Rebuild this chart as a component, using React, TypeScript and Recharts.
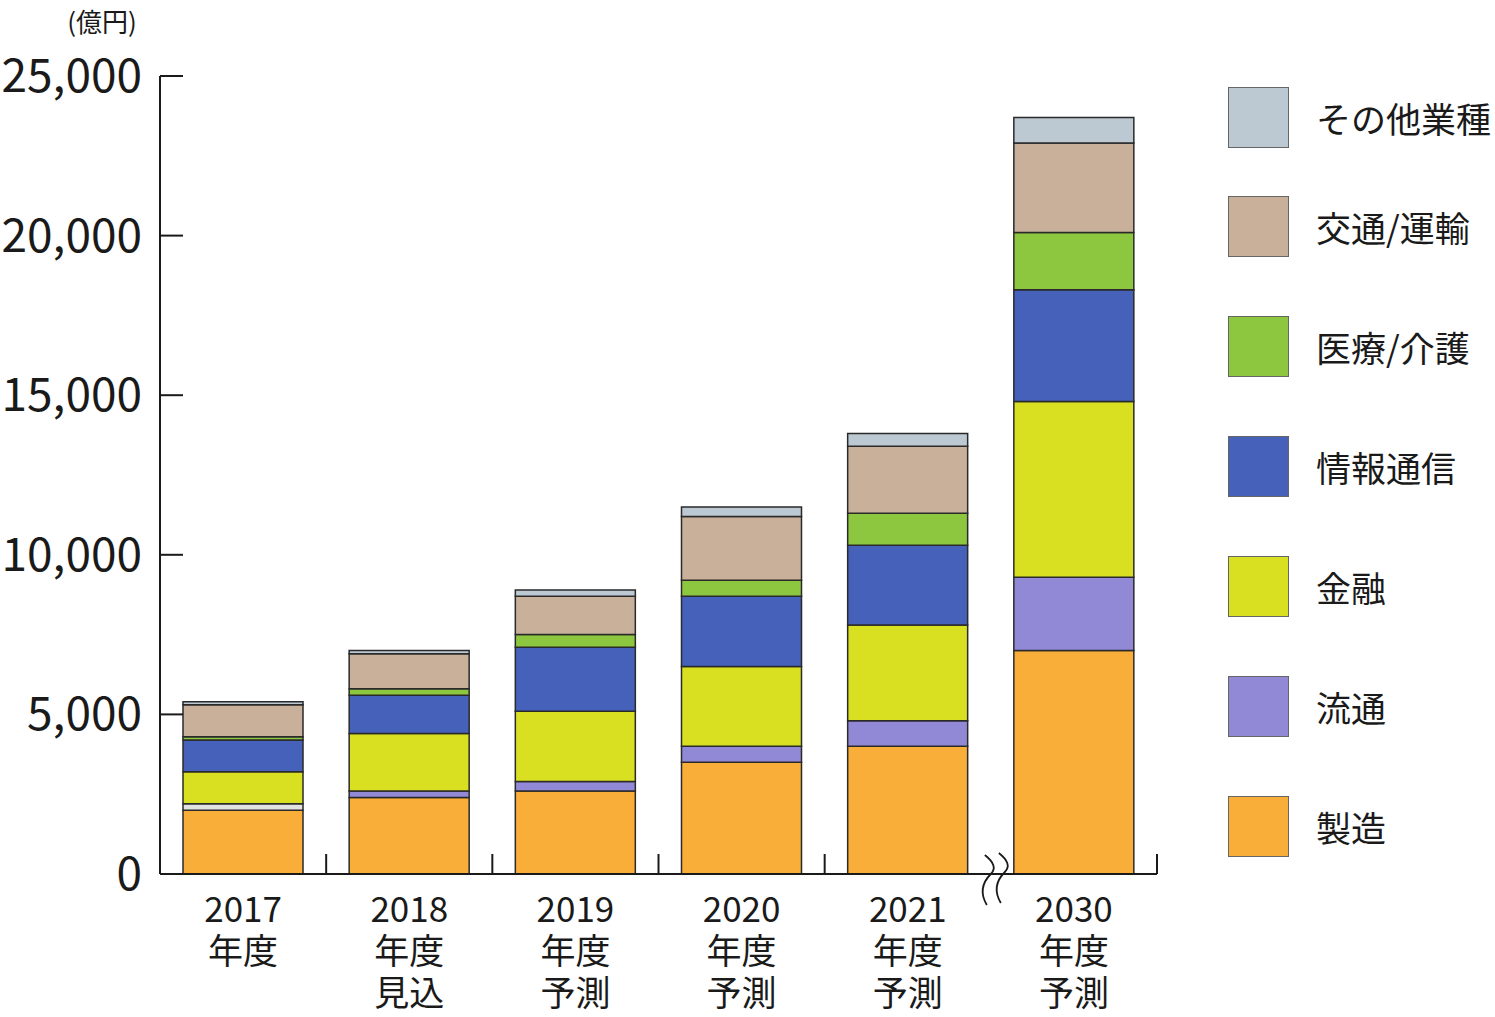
import { Bar, BarChart, Cell, XAxis, YAxis } from "recharts";

const categories = [
  "2017\n年度",
  "2018\n年度\n見込",
  "2019\n年度\n予測",
  "2020\n年度\n予測",
  "2021\n年度\n予測",
  "2030\n年度\n予測",
];

// 億円
const manufacturing = [2000, 2400, 2600, 3500, 4000, 7000];
const distribution = [200, 200, 300, 500, 800, 2300];
const finance = [1000, 1800, 2200, 2500, 3000, 5500];
const ict = [1000, 1200, 2000, 2200, 2500, 3500];
const medical = [100, 200, 400, 500, 1000, 1800];
const transport = [1000, 1100, 1200, 2000, 2100, 2800];
const other = [100, 100, 200, 300, 400, 800];

const yTicks = [0, 5000, 10000, 15000, 20000, 25000];

const series = [
  { key: "manufacturing", name: "製造", color: "#F9AE3A", values: manufacturing },
  { key: "distribution", name: "流通", color: "#9189D6", values: distribution },
  { key: "finance", name: "金融", color: "#D9E021", values: finance },
  { key: "ict", name: "情報通信", color: "#4561BA", values: ict },
  { key: "medical", name: "医療/介護", color: "#8DC63F", values: medical },
  { key: "transport", name: "交通/運輸", color: "#C8B09A", values: transport },
  { key: "other", name: "その他業種", color: "#BCC9D2", values: other },
];

const data = categories.map((name, i) => {
  const row: Record<string, string | number> = { name };
  series.forEach((s) => {
    row[s.key] = s.values[i];
  });
  return row;
});

const FONT = '"Noto Sans CJK JP", "Noto Sans", sans-serif';
const INK = "#1a1a1a";
const BAND = 997 / 6;
const BREAK_AFTER = 4;

const YTick = (props: any) => {
  const { x, y, payload } = props;
  return (
    <g>
      <line x1={x} x2={x + 23} y1={y} y2={y} stroke={INK} strokeWidth={2} />
      <text
        x={x - 18}
        y={y}
        dy={16}
        textAnchor="end"
        fontSize={46}
        fontFamily={FONT}
        fill={INK}
      >
        {Number(payload.value).toLocaleString("en-US")}
      </text>
    </g>
  );
};

const XTick = (props: any) => {
  const { x, y, payload, index } = props;
  const lines = String(payload.value).split("\n");
  const bx = x + BAND / 2;
  return (
    <g>
      {lines.map((line, i) => (
        <text
          key={i}
          x={x}
          y={y + 48 + i * 42}
          textAnchor="middle"
          fontSize={35}
          fontFamily={FONT}
          fill={INK}
        >
          {line}
        </text>
      ))}
      {index === BREAK_AFTER ? (
        <g fill="none" stroke={INK} strokeWidth={1.8}>
          <path
            d={`M ${bx - 6} ${y - 19} Q ${bx + 8} ${y - 8} ${bx} ${y} Q ${bx - 14} ${y + 14} ${bx - 4} ${y + 31}`}
          />
          <path
            d={`M ${bx + 8} ${y - 21} Q ${bx + 22} ${y - 10} ${bx + 14} ${y - 2} Q ${bx} ${y + 12} ${bx + 10} ${y + 29}`}
          />
        </g>
      ) : (
        <line x1={bx} x2={bx} y1={y} y2={y - 20} stroke={INK} strokeWidth={2} />
      )}
    </g>
  );
};

const LegendBlock = () => (
  <div style={{ position: "absolute", left: 1228, top: 87, width: 270, height: 780, fontFamily: FONT }}>
    {[...series].reverse().map((s, i) => (
      <div
        key={s.key}
        style={{
          position: "absolute",
          left: 0,
          top: i === 0 ? 0 : i * 120 - 11,
          display: "flex",
          alignItems: "center",
          height: 60,
        }}
      >
        <div
          style={{
            width: 59,
            height: 59,
            background: s.color,
            border: "1px solid #666",
          }}
        />
        <span style={{ marginLeft: 27, fontSize: 35, color: INK, whiteSpace: "nowrap" }}>
          {s.name}
        </span>
      </div>
    ))}
  </div>
);

const UnitLabel = () => (
  <text x={102} y={32} textAnchor="middle" fontSize={26} fontFamily={FONT} fill={INK}>
    (億円)
  </text>
);

export default function App() {
  return (
    <div style={{ position: "absolute", left: 0, top: 0, width: 1495, height: 1017, background: "#fff" }}>
      <BarChart
        width={1495}
        height={1017}
        data={data}
        margin={{ top: 76, right: 338, bottom: 0, left: 0 }}
        barSize={120}
      >
        <XAxis
          dataKey="name"
          height={143}
          interval={0}
          tickSize={0}
          tickMargin={0}
          tickLine={false}
          axisLine={{ stroke: INK, strokeWidth: 2 }}
          tick={<XTick />}
        />
        <YAxis
          width={160}
          domain={[0, 25000]}
          ticks={yTicks}
          tickSize={0}
          tickMargin={0}
          tickLine={false}
          axisLine={{ stroke: INK, strokeWidth: 2 }}
          tick={<YTick />}
          label={{ content: <UnitLabel /> }}
        />
        {series.map((s) => (
          <Bar
            key={s.key}
            dataKey={s.key}
            name={s.name}
            stackId="a"
            fill={s.color}
            stroke="#2a2a2a"
            strokeWidth={1.5}
            isAnimationActive={false}
          >
            {s.key === "distribution" &&
              data.map((_, i) => (
                <Cell key={i} fill={i === 0 ? "#E2E2E2" : s.color} />
              ))}
          </Bar>
        ))}
      </BarChart>
      <LegendBlock />
    </div>
  );
}
